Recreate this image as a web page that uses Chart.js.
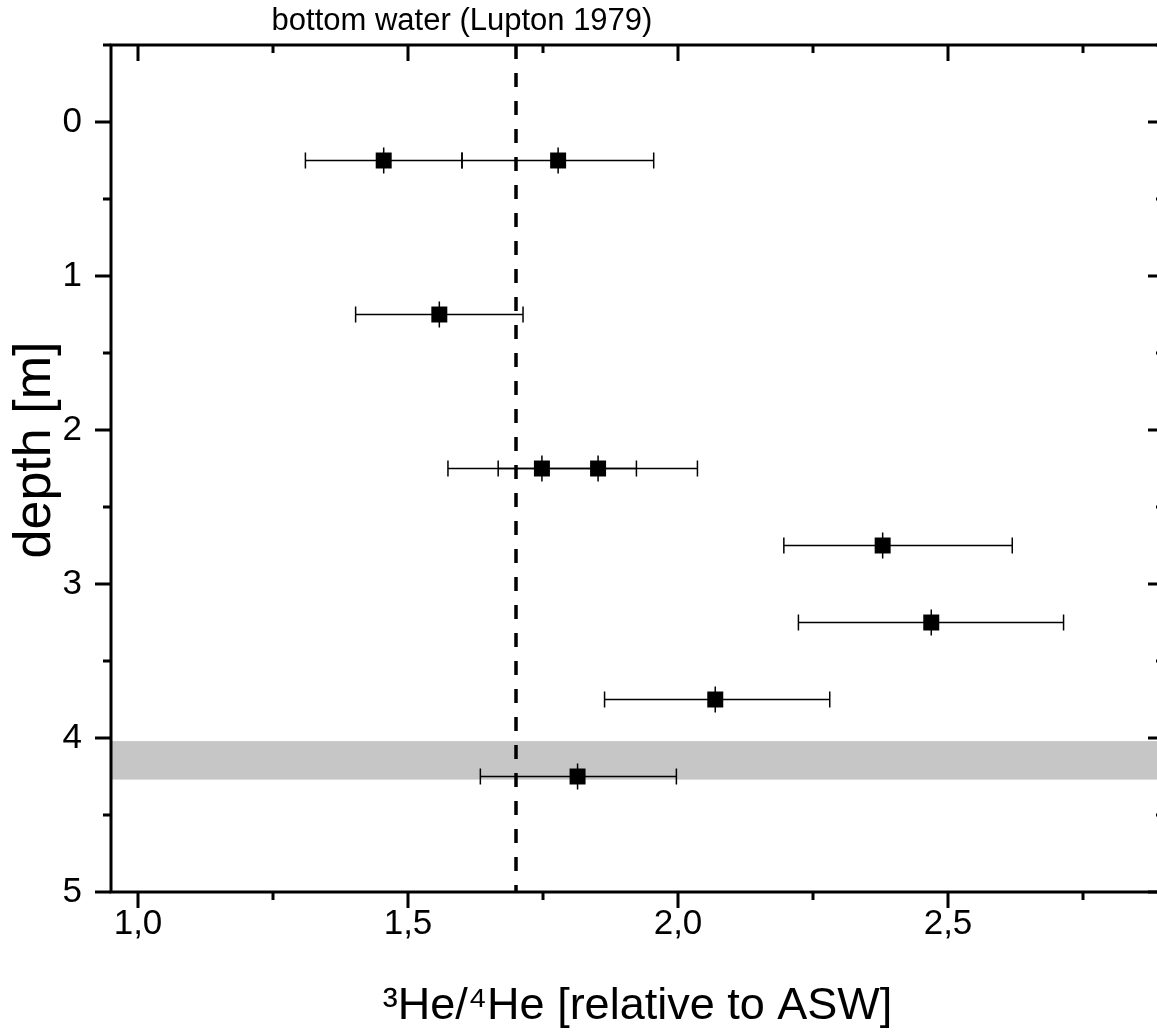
<!DOCTYPE html>
<html>
<head>
<meta charset="utf-8">
<script src="https://cdn.jsdelivr.net/npm/chart.js@4.4.1/dist/chart.umd.min.js"></script>
<style>
html, body { margin: 0; padding: 0; background: #fff; overflow: hidden; }
#wrap { width: 1170px; height: 1034px; }
</style>
</head>
<body>
<div id="wrap"><canvas id="heChart" width="1170" height="1034"></canvas></div>
<script>
// samples (depth in m, 3He/4He relative to ASW)
const depth = [0.25, 0.25, 1.25, 2.25, 2.25, 2.75, 3.25, 3.75, 4.25];
const ratio = [1.455, 1.778, 1.558, 1.748, 1.852, 2.379, 2.469, 2.069, 1.814];
const ratioLow = [1.310, 1.600, 1.403, 1.574, 1.667, 2.196, 2.223, 1.864, 1.634];
const ratioHigh = [1.600, 1.955, 1.713, 1.923, 2.036, 2.619, 2.714, 2.281, 1.997];
const depthErr = [0.085, 0.085, 0.085, 0.085, 0.085, 0.085, 0.085, 0.085, 0.085];

// bottom water value (Lupton 1979) and the grey depth band
const bottomWater = 1.7;
const bandDepth = [4.02, 4.27];

const xMajorTicks = [1.0, 1.5, 2.0, 2.5];
const xMinorTicks = [1.25, 1.75, 2.25, 2.75];
const yMajorTicks = [0, 1, 2, 3, 4, 5];
const yMinorTicks = [-0.5, 0.5, 1.5, 2.5, 3.5, 4.5];

const FONT = '"Liberation Sans", Arial, sans-serif';

const background = {
    id: 'background',
    beforeDatasetsDraw(chart) {
        const { ctx, chartArea: a, scales: { x, y } } = chart;
        ctx.save();
        const b0 = y.getPixelForValue(bandDepth[0]);
        const b1 = y.getPixelForValue(bandDepth[1]);
        ctx.fillStyle = '#c6c6c6';
        ctx.fillRect(a.left, b0, a.right - a.left, b1 - b0);

        const dx = x.getPixelForValue(bottomWater);
        ctx.strokeStyle = '#000';
        ctx.lineWidth = 3.5;
        ctx.setLineDash([14, 14]);
        ctx.beginPath();
        ctx.moveTo(dx, a.top);
        ctx.lineTo(dx, a.bottom);
        ctx.stroke();
        ctx.setLineDash([]);

        // error bars
        ctx.lineWidth = 1.5;
        ratio.forEach((v, i) => {
            const py = y.getPixelForValue(depth[i]);
            const px = x.getPixelForValue(v);
            const l = x.getPixelForValue(ratioLow[i]);
            const r = x.getPixelForValue(ratioHigh[i]);
            const t = y.getPixelForValue(depth[i] - depthErr[i]);
            const b = y.getPixelForValue(depth[i] + depthErr[i]);
            ctx.beginPath();
            ctx.moveTo(l, py); ctx.lineTo(r, py);
            ctx.moveTo(l, py - 8); ctx.lineTo(l, py + 8);
            ctx.moveTo(r, py - 8); ctx.lineTo(r, py + 8);
            ctx.moveTo(px, t); ctx.lineTo(px, b);
            ctx.stroke();
        });
        ctx.restore();
    }
};

const frame = {
    id: 'frame',
    afterDraw(chart) {
        const { ctx, chartArea: a, scales: { x, y } } = chart;
        ctx.save();
        ctx.strokeStyle = '#000';
        ctx.lineWidth = 3;
        ctx.strokeRect(a.left, a.top, a.right - a.left, a.bottom - a.top);

        const seg = (x1, y1, x2, y2) => { ctx.moveTo(x1, y1); ctx.lineTo(x2, y2); };
        ctx.beginPath();
        xMajorTicks.forEach(v => {
            const p = x.getPixelForValue(v);
            seg(p, a.bottom, p, a.bottom + 16);
            seg(p, a.top, p, a.top + 16);
        });
        xMinorTicks.forEach(v => {
            const p = x.getPixelForValue(v);
            seg(p, a.bottom, p, a.bottom + 8);
            seg(p, a.top, p, a.top + 8);
        });
        yMajorTicks.forEach(v => {
            const p = y.getPixelForValue(v);
            seg(a.left - 16, p, a.left, p);
            seg(a.right - 16, p, a.right, p);
        });
        yMinorTicks.forEach(v => {
            const p = y.getPixelForValue(v);
            seg(a.left - 8, p, a.left, p);
            seg(a.right - 8, p, a.right, p);
        });
        ctx.stroke();

        ctx.fillStyle = '#000';
        ctx.textAlign = 'center';
        ctx.textBaseline = 'middle';
        ctx.font = '31px ' + FONT;
        ctx.fillText('bottom water (Lupton 1979)', x.getPixelForValue(1.6), 21);

        // y axis title, a little above the middle as in the original
        ctx.translate(36, 450);
        ctx.rotate(-Math.PI / 2);
        ctx.font = '52px ' + FONT;
        ctx.fillText('depth [m]', 0, 0);
        ctx.restore();
    }
};

new Chart(document.getElementById('heChart'), {
    type: 'scatter',
    data: {
        datasets: [{
            label: 'samples',
            data: ratio.map((v, i) => ({ x: v, y: depth[i] })),
            pointStyle: 'rect',
            pointRadius: 11.3,
            backgroundColor: '#000',
            borderWidth: 0
        }]
    },
    options: {
        responsive: false,
        animation: false,
        events: [],
        layout: { autoPadding: false, padding: { top: 45, right: 6, left: 0, bottom: 0 } },
        plugins: { legend: { display: false }, tooltip: { enabled: false } },
        scales: {
            x: {
                type: 'linear',
                min: 0.95,
                max: 2.9,
                afterBuildTicks: s => { s.ticks = xMajorTicks.concat(xMinorTicks).sort((a, b) => a - b).map(v => ({ value: v })); },
                afterFit: s => { s.height = 142; s.paddingLeft = 0; s.paddingRight = 0; },
                grid: { display: false, drawTicks: false },
                border: { display: false },
                ticks: {
                    padding: 11,
                    color: '#000',
                    font: { size: 35, family: FONT },
                    callback: v => xMajorTicks.includes(v) ? v.toFixed(1).replace('.', ',') : ''
                },
                title: {
                    display: true,
                    text: '³He/⁴He [relative to ASW]',
                    color: '#000',
                    font: { size: 45, family: FONT },
                    padding: { top: 14, bottom: 0 }
                }
            },
            y: {
                type: 'linear',
                reverse: true,
                min: -0.5,
                max: 5,
                afterBuildTicks: s => { s.ticks = yMajorTicks.map(v => ({ value: v })); },
                afterFit: s => { s.width = 111; s.paddingTop = 0; s.paddingBottom = 0; },
                grid: { display: false, drawTicks: false },
                border: { display: false },
                ticks: {
                    padding: 29,
                    color: '#000',
                    font: { size: 35, family: FONT },
                    callback: v => String(v)
                }
            }
        }
    },
    plugins: [background, frame]
});
</script>
</body>
</html>
